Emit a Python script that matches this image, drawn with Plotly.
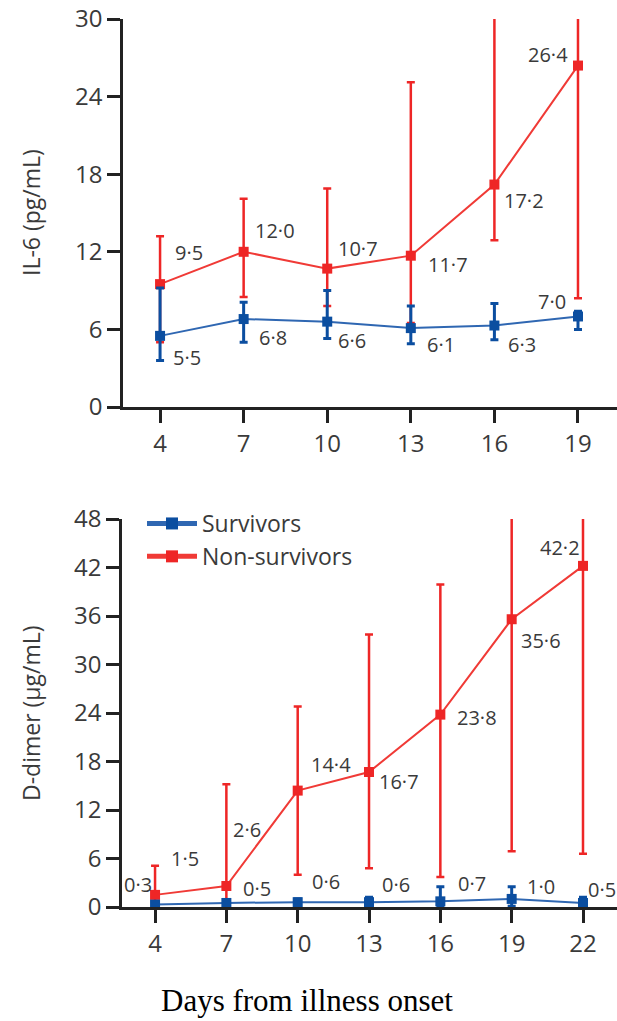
import plotly.graph_objects as go

# IL-6 (pg/mL) by day from illness onset
days_il6 = [4, 7, 10, 13, 16, 19]
il6_surv = [5.5, 6.8, 6.6, 6.1, 6.3, 7.0]
il6_surv_lo = [3.6, 5.0, 5.3, 4.9, 5.2, 6.0]
il6_surv_hi = [9.2, 8.1, 9.0, 7.8, 8.0, 7.4]
il6_non = [9.5, 12.0, 10.7, 11.7, 17.2, 26.4]
il6_non_lo = [5.0, 8.5, 7.8, 6.5, 12.9, 8.4]
il6_non_hi = [13.2, 16.1, 16.9, 25.1, 33.0, 34.0]

# D-dimer (µg/mL) by day from illness onset
days_dd = [4, 7, 10, 13, 16, 19, 22]
dd_surv = [0.3, 0.5, 0.6, 0.6, 0.7, 1.0, 0.5]
dd_surv_lo = [0.1, 0.2, 0.3, 0.2, 0.1, 0.1, 0.2]
dd_surv_hi = [0.6, 0.9, 1.0, 1.2, 2.5, 2.5, 1.2]
dd_non = [1.5, 2.6, 14.4, 16.7, 23.8, 35.6, 42.2]
dd_non_lo = [0.4, 0.6, 4.0, 4.8, 3.7, 6.9, 6.6]
dd_non_hi = [5.1, 15.2, 24.8, 33.7, 39.9, 52.0, 52.0]

il6_ticks = [0, 6, 12, 18, 24, 30]
dd_ticks = [0, 6, 12, 18, 24, 30, 36, 42, 48]

# pixel offsets of the value labels from their markers (dx right, dy down)
il6_surv_off = [(27, 22), (29, 18), (25, 19), (30, 16), (28, 19), (-26, -15)]
il6_non_off = [(29, -32), (31, -21), (31, -20), (37, 9), (30, 16), (-30, -11)]
dd_surv_off = [(-17, -20), (31, -14), (28, -21), (27, -18), (32, -18), (29, -12), (19, -13)]
dd_non_off = [(30, -36), (21, -56), (33, -26), (30, 9), (37, 3), (29, 21), (-23, -18)]

RED = "#ee2626"
RED_LINE = "#f03a36"
BLUE = "#0b4ea0"
BLUE_LINE = "#2f67b2"
AXIS = "#222222"
TEXT = "#3a3a3a"
FONT = "Open Sans"

W, H = 617, 1021


def fmt(v):
    return f"{v:.1f}".replace(".", "\u00b7")


def series(x, y, lo, hi, name, mcol, lcol, thick, xa, ya, legend):
    return go.Scatter(
        x=x, y=y, name=name, mode="lines+markers",
        xaxis=xa, yaxis=ya, showlegend=legend, cliponaxis=False,
        line=dict(color=lcol, width=2),
        marker=dict(symbol="square", size=10, color=mcol),
        error_y=dict(
            type="data", symmetric=False,
            array=[h - v for h, v in zip(hi, y)],
            arrayminus=[v - l for v, l in zip(y, lo)],
            color=mcol, thickness=thick, width=4,
        ),
    )


fig = go.Figure()
fig.add_trace(series(days_il6, il6_non, il6_non_lo, il6_non_hi, "Non-survivors",
                     RED, RED_LINE, 2.5, "x", "y", False))
fig.add_trace(series(days_il6, il6_surv, il6_surv_lo, il6_surv_hi, "Survivors",
                     BLUE, BLUE_LINE, 3, "x", "y", False))
fig.add_trace(series(days_dd, dd_non, dd_non_lo, dd_non_hi, "Non-survivors",
                     RED, RED_LINE, 2.5, "x2", "y2", True))
fig.add_trace(series(days_dd, dd_surv, dd_surv_lo, dd_surv_hi, "Survivors",
                     BLUE, BLUE_LINE, 3, "x2", "y2", True))
fig.data[2].legendrank = 2
fig.data[3].legendrank = 1

annotations = []


def value_labels(xs, ys, offs, xref, yref):
    for x, y, (dx, dy) in zip(xs, ys, offs):
        annotations.append(dict(
            x=x, y=y, xref=xref, yref=yref, text=fmt(y), showarrow=False,
            xanchor="center", yanchor="middle",
            xshift=dx, yshift=-dy, font=dict(family=FONT, size=20, color=TEXT),
        ))


value_labels(days_il6, il6_non, il6_non_off, "x", "y")
value_labels(days_il6, il6_surv, il6_surv_off, "x", "y")
value_labels(days_dd, dd_non, dd_non_off, "x2", "y2")
value_labels(days_dd, dd_surv, dd_surv_off, "x2", "y2")

# y-axis titles
annotations.append(dict(
    x=31 / W, y=1 - 213 / H, xref="paper", yref="paper", text="IL-6 (pg/mL)",
    xanchor="center", yanchor="middle",
    textangle=-90, showarrow=False, font=dict(family=FONT, size=23, color=TEXT),
))
annotations.append(dict(
    x=31 / W, y=1 - 713 / H, xref="paper", yref="paper", text="D-dimer (\u03bcg/mL)",
    xanchor="center", yanchor="middle",
    textangle=-90, showarrow=False, font=dict(family=FONT, size=23, color=TEXT),
))
# shared x-axis title
annotations.append(dict(
    x=307 / W, y=1 - 1000 / H, xref="paper", yref="paper",
    xanchor="center", yanchor="middle",
    text="Days from illness onset", showarrow=False,
    font=dict(family="Liberation Serif", size=31, color="#000000"),
))

common_axis = dict(
    showline=True, linecolor=AXIS, linewidth=2.5, showgrid=False, zeroline=False,
    ticks="outside", ticklen=13, tickwidth=2.5, tickcolor=AXIS,
    tickfont=dict(family=FONT, size=24, color=TEXT), automargin=False,
)

fig.update_layout(
    width=W, height=H,
    margin=dict(l=0, r=0, t=0, b=0, pad=0, autoexpand=False),
    paper_bgcolor="white", plot_bgcolor="white",
    xaxis=dict(domain=[123 / W, 1], range=[2.67, 20.4], tickvals=days_il6,
               anchor="y", **common_axis),
    yaxis=dict(domain=[1 - 407 / H, 1 - 19 / H], range=[0, 30], tickvals=il6_ticks,
               anchor="x", **common_axis),
    xaxis2=dict(domain=[122 / W, 1], range=[2.61, 23.43], tickvals=days_dd,
                anchor="y2", **common_axis),
    yaxis2=dict(domain=[1 - 907 / H, 1 - 519 / H], range=[0, 48], tickvals=dd_ticks,
                anchor="x2", **common_axis),
    legend=dict(x=142 / W, y=1 - 502 / H, xanchor="left", yanchor="top",
                bgcolor="rgba(0,0,0,0)", font=dict(family=FONT, size=23, color=TEXT),
                itemwidth=50, itemsizing="constant", traceorder="normal"),
    annotations=annotations,
    showlegend=True,
)

fig.write_html("out.html")
